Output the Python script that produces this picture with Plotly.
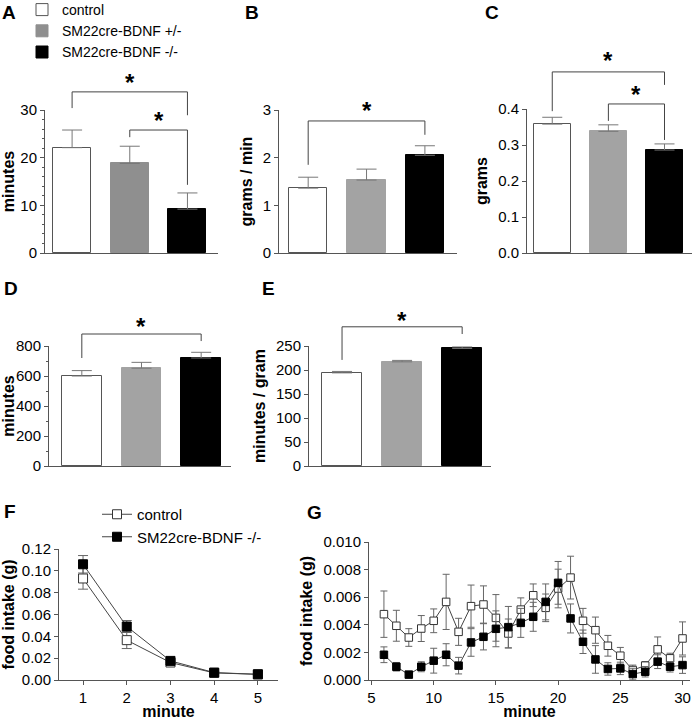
import plotly.graph_objects as go

W, H = 694, 720
FONT = "Liberation Sans, Arial, Helvetica, sans-serif"
AX = "#555555"

# ---------------- data ----------------
groups = ["control", "SM22cre-BDNF +/-", "SM22cre-BDNF -/-"]
colors_A = ["#ffffff", "#8f8f8f", "#000000"]
colors_other = ["#ffffff", "#a3a3a3", "#000000"]

A_mean = [22.1, 18.8, 9.2]
A_sem = [3.7, 3.6, 3.4]
B_mean = [1.36, 1.53, 2.05]
B_sem = [0.23, 0.23, 0.20]
C_mean = [0.358, 0.338, 0.286]
C_sem = [0.019, 0.018, 0.017]
D_mean = [600, 652, 720]
D_sem = [36, 39, 38]
E_mean = [194, 217, 245]
E_sem = [3, 3, 3]

F_minute = [1, 2, 3, 4, 5]
F_ctrl = [0.093, 0.0365, 0.016, 0.0065, 0.0052]
F_ctrl_sem = [0.0098, 0.0077, 0.0015, 0.0008, 0.0006]
F_ko = [0.106, 0.049, 0.0175, 0.0068, 0.0052]
F_ko_sem = [0.008, 0.0055, 0.0015, 0.0008, 0.0006]

G_minute = [6, 7, 8, 9, 10, 11, 12, 13, 14, 15, 16, 17, 18, 19, 20, 21, 22, 23, 24, 25, 26, 27, 28, 29, 30]
G_ctrl = [0.00477, 0.00393, 0.00308, 0.00373, 0.00429, 0.00566, 0.00349, 0.00535, 0.00547, 0.00450,
          0.00337, 0.00510, 0.00614, 0.00523, 0.00663, 0.00742, 0.00429, 0.00361, 0.00248, 0.00176,
          0.00072, 0.00104, 0.00222, 0.00157, 0.00301]
G_ctrl_sem = [0.00168, 0.00112, 0.00064, 0.00094, 0.00086, 0.00200, 0.00098, 0.00153, 0.00135, 0.00169,
              0.00105, 0.00085, 0.00082, 0.00100, 0.00140, 0.00155, 0.00090, 0.00095, 0.00075, 0.00060,
              0.00036, 0.00030, 0.00090, 0.00037, 0.00120]
G_ko = [0.00183, 0.00096, 0.00039, 0.00096, 0.00140, 0.00183, 0.00104, 0.00272, 0.00313, 0.00371,
        0.00383, 0.00414, 0.00458, 0.00566, 0.00704, 0.00446, 0.00277, 0.00149, 0.00080, 0.00084,
        0.00043, 0.00060, 0.00133, 0.00096, 0.00108]
G_ko_sem = [0.00057, 0.00031, 0.00020, 0.00036, 0.00090, 0.00080, 0.00060, 0.00100, 0.00095, 0.00130,
            0.00150, 0.00105, 0.00105, 0.00130, 0.00155, 0.00105, 0.00085, 0.00100, 0.00045, 0.00045,
            0.00042, 0.00038, 0.00050, 0.00038, 0.00060]

# ---------------- layout helpers ----------------
def dom_x(a, b):
    return [a / W, b / W]

def dom_y(top, bottom):
    return [1 - bottom / H, 1 - top / H]

def to_py(v, dom, rng):
    return dom[0] + (v - rng[0]) / (rng[1] - rng[0]) * (dom[1] - dom[0])

bar_panels = [
    dict(letter="A", xpx=(45, 218), ypx=(110, 253), xr=[-0.47, 2.53], yr=[0, 30], dtick=10, minor=2,
         fmt=None, title="minutes", mean=A_mean, sem=A_sem, colors=colors_A,
         brackets=[(0, 2, 33.8, 30.4, 28.9, 36.6), (1, 2, 25.8, 24.3, 14.3, 28.6)],
         lpos=(0, 0)),
    dict(letter="B", xpx=(279, 457), ypx=(110, 253), xr=[-0.5, 2.55], yr=[0, 3], dtick=1, minor=None,
         fmt=None, title="grams / min", mean=B_mean, sem=B_sem, colors=colors_other,
         brackets=[(0, 2, 2.77, 1.85, 2.48, 3.07)], lpos=(243, 0)),
    dict(letter="C", xpx=(527, 692), ypx=(109, 253), xr=[-0.45, 2.49], yr=[0, 0.4], dtick=0.1, minor=None,
         fmt=".1f", title="grams", mean=C_mean, sem=C_sem, colors=colors_other,
         brackets=[(0, 2, 0.503, 0.394, 0.467, 0.546), (1, 2, 0.414, 0.367, 0.314, 0.452)],
         lpos=(483, 0)),
    dict(letter="D", xpx=(49, 231), ypx=(346, 466), xr=[-0.55, 2.5], yr=[0, 800], dtick=200, minor=100,
         fmt=None, title="minutes", mean=D_mean, sem=D_sem, colors=colors_other,
         brackets=[(0, 2, 880, 720, 833, 955)], lpos=(2, 276)),
    dict(letter="E", xpx=(309, 491), ypx=(346, 466), xr=[-0.55, 2.48], yr=[0, 250], dtick=50, minor=None,
         fmt=None, title="minutes / gram", mean=E_mean, sem=E_sem, colors=colors_other,
         brackets=[(0, 2, 290, 221, 275, 312)], lpos=(260, 276)),
]

fig = go.Figure()
layout = dict(
    width=W, height=H, margin=dict(l=0, r=0, t=0, b=0, autoexpand=False),
    paper_bgcolor="white", plot_bgcolor="white",
    font=dict(family=FONT, size=15, color="#000"),
    bargap=0, barmode="overlay",
)
shapes = []
annotations = []

for i, p in enumerate(bar_panels):
    n = i + 1
    xa = "x" if n == 1 else f"x{n}"
    ya = "y" if n == 1 else f"y{n}"
    xd = dom_x(*p["xpx"])
    yd = dom_y(*p["ypx"])
    for g in range(3):
        fig.add_trace(go.Bar(
            x=[g], y=[p["mean"][g]], width=0.66, xaxis=xa, yaxis=ya,
            name=groups[g], showlegend=(n == 1), legend="legend",
            marker=dict(color=p["colors"][g],
                        line=dict(color=("#555" if g == 0 else p["colors"][g]), width=1)),
            error_y=dict(type="data", array=[p["sem"][g]], arrayminus=[0], symmetric=False,
                         color="#777", thickness=1, width=10),
        ))
    layout["xaxis" if n == 1 else f"xaxis{n}"] = dict(
        domain=xd, range=p["xr"], anchor=ya, showline=True, linecolor=AX, linewidth=1,
        showticklabels=False, ticks="", showgrid=False, zeroline=False, fixedrange=True)
    yax = dict(
        domain=yd, range=p["yr"], anchor=xa, showline=True, linecolor=AX, linewidth=1,
        ticks="outside", ticklen=4, tickcolor=AX, dtick=p["dtick"], tick0=0,
        tickfont=dict(size=15, family=FONT), showgrid=False, zeroline=False, fixedrange=True,
        title=dict(text=p["title"], font=dict(size=16, family=FONT, weight="bold"), standoff=6))
    if p["fmt"]:
        yax["tickformat"] = p["fmt"]
    if p["minor"]:
        yax["minor"] = dict(dtick=p["minor"], ticks="outside", ticklen=2, tickcolor=AX, showgrid=False)
    layout["yaxis" if n == 1 else f"yaxis{n}"] = yax
    for (x0, x1, top, l0, l1, star) in p["brackets"]:
        yt = to_py(top, yd, p["yr"])
        ya0 = to_py(l0, yd, p["yr"])
        ya1 = to_py(l1, yd, p["yr"])
        shapes.append(dict(type="path", xref=xa, yref="paper",
                           path=f"M {x0},{ya0} L {x0},{yt} L {x1},{yt} L {x1},{ya1}",
                           line=dict(color="#444", width=1)))
        annotations.append(dict(x=(x0 + x1) / 2, y=to_py(star, yd, p["yr"]), xref=xa, yref="paper",
                                text="*", showarrow=False, xanchor="center", yanchor="middle",
                                yshift=-4, font=dict(size=24, family=FONT, weight="bold")))
    annotations.append(dict(x=p["lpos"][0] / W, y=1 - p["lpos"][1] / H, xref="paper", yref="paper",
                            text=p["letter"], showarrow=False, xanchor="left", yanchor="top",
                            font=dict(size=19, family=FONT, weight="bold")))

# ---------------- line panels F and G ----------------
line_panels = [
    dict(letter="F", xpx=(59, 278), ypx=(549, 680), xr=[0.45, 5.46], yr=[0, 0.12], xdtick=1, ydtick=0.02,
         fmt=".2f", x=F_minute, ctrl=F_ctrl, ctrl_sem=F_ctrl_sem, ko=F_ko, ko_sem=F_ko_sem,
         msize=9, cap=5, legend=True, lpos=(2, 499)),
    dict(letter="G", xpx=(369, 690), ypx=(542, 680), xr=[4.8, 30.6], yr=[0, 0.010], xdtick=5, ydtick=0.002,
         fmt=".3f", x=G_minute, ctrl=G_ctrl, ctrl_sem=G_ctrl_sem, ko=G_ko, ko_sem=G_ko_sem,
         msize=7.5, cap=3.5, legend=False, lpos=(305, 500)),
]

for j, p in enumerate(line_panels):
    n = len(bar_panels) + j + 1
    xa, ya = f"x{n}", f"y{n}"
    xd = dom_x(*p["xpx"])
    yd = dom_y(*p["ypx"])
    fig.add_trace(go.Scatter(
        x=p["x"], y=p["ctrl"], mode="lines+markers", name="control", xaxis=xa, yaxis=ya,
        showlegend=p["legend"], legend="legend2",
        line=dict(color="#444", width=1),
        marker=dict(symbol="square", size=p["msize"], color="white", line=dict(color="#333", width=1)),
        error_y=dict(type="data", array=p["ctrl_sem"], color="#666", thickness=1, width=p["cap"])))
    fig.add_trace(go.Scatter(
        x=p["x"], y=p["ko"], mode="lines+markers", name="SM22cre-BDNF -/-", xaxis=xa, yaxis=ya,
        showlegend=p["legend"], legend="legend2",
        line=dict(color="#444", width=1),
        marker=dict(symbol="square", size=p["msize"], color="black", line=dict(color="black", width=1)),
        error_y=dict(type="data", array=p["ko_sem"], color="#666", thickness=1, width=p["cap"])))
    layout[f"xaxis{n}"] = dict(
        domain=xd, range=p["xr"], anchor=ya, showline=True, linecolor=AX, linewidth=1,
        ticks="outside", ticklen=4, tickcolor=AX, dtick=p["xdtick"], tick0=0,
        tickfont=dict(size=15, family=FONT), showgrid=False, zeroline=False, fixedrange=True,
        title=dict(text="minute", font=dict(size=16, family=FONT, weight="bold"), standoff=5))
    layout[f"yaxis{n}"] = dict(
        domain=yd, range=p["yr"], anchor=xa, showline=True, linecolor=AX, linewidth=1,
        ticks="outside", ticklen=4, tickcolor=AX, dtick=p["ydtick"], tick0=0, tickformat=p["fmt"],
        tickfont=dict(size=15, family=FONT), showgrid=False, zeroline=False, fixedrange=True,
        title=dict(text="food intake (g)", font=dict(size=16, family=FONT, weight="bold"), standoff=6))
    annotations.append(dict(x=p["lpos"][0] / W, y=1 - p["lpos"][1] / H, xref="paper", yref="paper",
                            text=p["letter"], showarrow=False, xanchor="left", yanchor="top",
                            font=dict(size=19, family=FONT, weight="bold")))

layout["legend"] = dict(x=22 / W, y=1 + 6 / H, xanchor="left", yanchor="top",
                        font=dict(size=14, family=FONT), bgcolor="rgba(0,0,0,0)",
                        traceorder="normal", tracegroupgap=0, borderwidth=0)
layout["legend2"] = dict(x=97 / W, y=1 - 498 / H, xanchor="left", yanchor="top",
                         font=dict(size=15, family=FONT), bgcolor="rgba(0,0,0,0)",
                         traceorder="normal", tracegroupgap=0, borderwidth=0)
layout["shapes"] = shapes
layout["annotations"] = annotations
fig.update_layout(**layout)

fig.write_html("out.html", config={"displayModeBar": False},
               post_script="document.body.style.margin='0';document.body.style.overflow='hidden';")
